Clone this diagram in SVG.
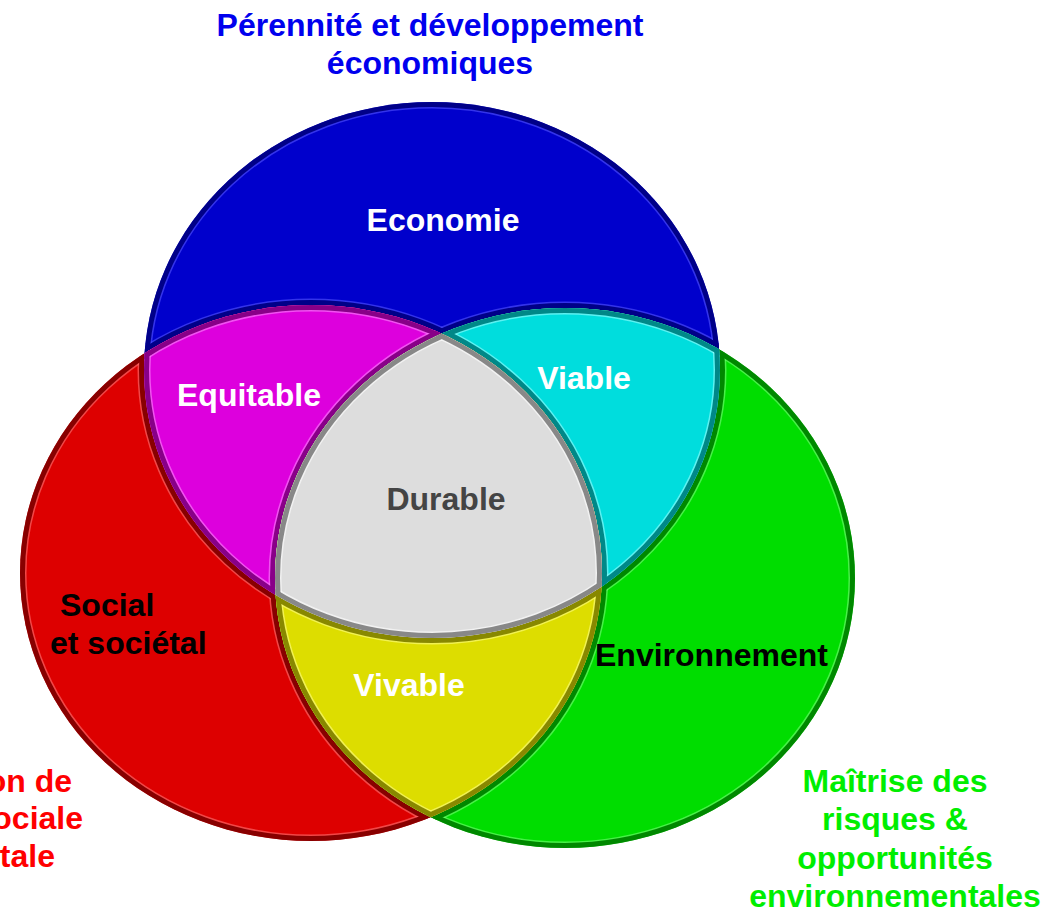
<svg xmlns="http://www.w3.org/2000/svg" width="1057" height="908" viewBox="0 0 1057 908">
<style>
text{font-family:"Liberation Sans",Arial,sans-serif;font-weight:bold;font-size:32px}
.w{fill:#ffffff}
.k{fill:#000000}
.m{text-anchor:middle}
.e{text-anchor:end}
.rim{fill:none;stroke-width:10}
.hl{fill:none;stroke-width:13;stroke-opacity:0.6}
</style>
<defs>
<ellipse id="eB" cx="432" cy="370" rx="288" ry="268"/>
<ellipse id="eR" cx="311" cy="573" rx="291" ry="268"/>
<ellipse id="eG" cx="565" cy="578" rx="290" ry="270"/>
<clipPath id="cB"><use href="#eB"/></clipPath>
<clipPath id="cR"><use href="#eR"/></clipPath>
<clipPath id="cG"><use href="#eG"/></clipPath>
</defs>
<rect width="1057" height="908" fill="#ffffff"/>

<g id="economie" clip-path="url(#cB)">
<use href="#eB" fill="#0000CC"/>
<g stroke="#5555ff"><use href="#eB" class="hl"/><use href="#eR" class="hl"/><use href="#eG" class="hl"/></g>
<g stroke="#000088"><use href="#eB" class="rim"/><use href="#eR" class="rim"/><use href="#eG" class="rim"/></g>
</g>
<g id="social" clip-path="url(#cR)">
<use href="#eR" fill="#DD0000"/>
<g stroke="#ff7777"><use href="#eB" class="hl"/><use href="#eR" class="hl"/><use href="#eG" class="hl"/></g>
<g stroke="#880000"><use href="#eB" class="rim"/><use href="#eR" class="rim"/><use href="#eG" class="rim"/></g>
</g>
<g id="environnement" clip-path="url(#cG)">
<use href="#eG" fill="#00DD00"/>
<g stroke="#77ff77"><use href="#eB" class="hl"/><use href="#eR" class="hl"/><use href="#eG" class="hl"/></g>
<g stroke="#008800"><use href="#eB" class="rim"/><use href="#eR" class="rim"/><use href="#eG" class="rim"/></g>
</g>

<g id="equitable" clip-path="url(#cB)"><g clip-path="url(#cR)">
<rect width="1057" height="908" fill="#DD00DD"/>
<g stroke="#ff88ff"><use href="#eB" class="hl"/><use href="#eR" class="hl"/><use href="#eG" class="hl"/></g>
<g stroke="#880088"><use href="#eB" class="rim"/><use href="#eR" class="rim"/><use href="#eG" class="rim"/></g>
</g></g>
<g id="viable" clip-path="url(#cB)"><g clip-path="url(#cG)">
<rect width="1057" height="908" fill="#00DDDD"/>
<g stroke="#99ffff"><use href="#eB" class="hl"/><use href="#eR" class="hl"/><use href="#eG" class="hl"/></g>
<g stroke="#008888"><use href="#eB" class="rim"/><use href="#eR" class="rim"/><use href="#eG" class="rim"/></g>
</g></g>
<g id="vivable" clip-path="url(#cR)"><g clip-path="url(#cG)">
<rect width="1057" height="908" fill="#DDDD00"/>
<g stroke="#ffff88"><use href="#eB" class="hl"/><use href="#eR" class="hl"/><use href="#eG" class="hl"/></g>
<g stroke="#888800"><use href="#eB" class="rim"/><use href="#eR" class="rim"/><use href="#eG" class="rim"/></g>
</g></g>
<g id="durable" clip-path="url(#cB)"><g clip-path="url(#cR)"><g clip-path="url(#cG)">
<rect width="1057" height="908" fill="#DDDDDD"/>
<g stroke="#ffffff"><use href="#eB" class="hl"/><use href="#eR" class="hl"/><use href="#eG" class="hl"/></g>
<g stroke="#888888"><use href="#eB" class="rim"/><use href="#eR" class="rim"/><use href="#eG" class="rim"/></g>
</g></g></g>

<g id="labels">
<text class="m" x="430" y="36" fill="#0000EE">Pérennité et développement</text>
<text class="m" x="430" y="74" fill="#0000EE">économiques</text>
<text class="m w" x="443" y="231">Economie</text>
<text class="m w" x="249" y="406">Equitable</text>
<text class="m w" x="584" y="389">Viable</text>
<text class="m" x="446" y="510" fill="#444444">Durable</text>
<text class="k" x="60" y="616">Social</text>
<text class="k" x="50" y="654">et sociétal</text>
<text class="k" x="595" y="666">Environnement</text>
<text class="m w" x="409" y="696">Vivable</text>
<text class="e" x="72" y="792" fill="#FF0000">on de</text>
<text class="e" x="83" y="829" fill="#FF0000">ociale</text>
<text class="e" x="55" y="867" fill="#FF0000">tale</text>
<text class="m" x="895" y="792" fill="#00EE00">Maîtrise des</text>
<text class="m" x="895" y="830" fill="#00EE00">risques &amp;</text>
<text class="m" x="895" y="869" fill="#00EE00">opportunités</text>
<text class="m" x="895" y="907" fill="#00EE00">environnementales</text>
</g>
</svg>
